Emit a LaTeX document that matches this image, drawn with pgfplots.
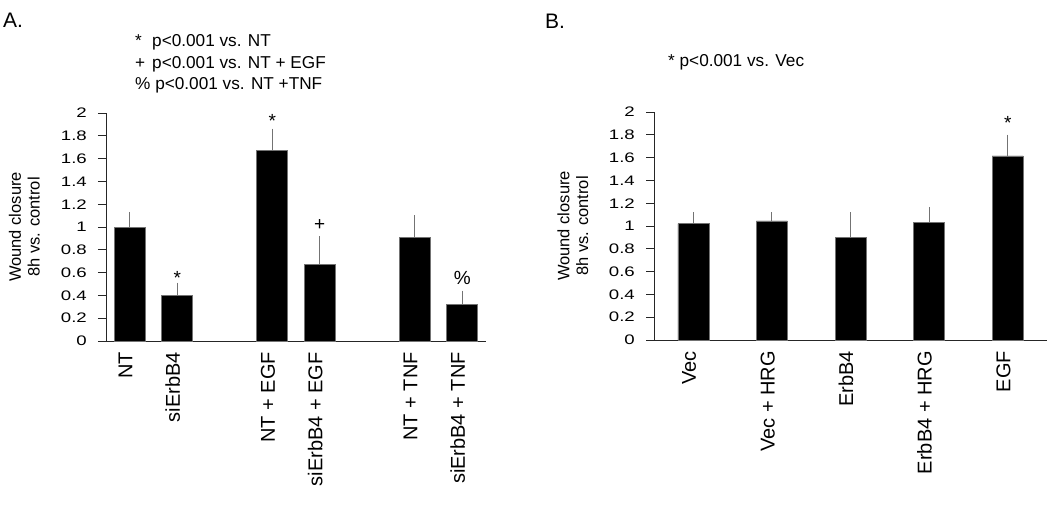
\documentclass[border=0pt]{standalone}
\usepackage{pgfplots}
\pgfplotsset{compat=1.18}
\usepackage{fontspec}
\setmainfont{Liberation Sans}
\newfontfamily\tickfont[FakeStretch=1.35]{Liberation Sans}

\pgfplotsset{
  panel/.style={
    scale only axis,
    height=228pt,
    ymin=0, ymax=2,
    ytick={0,0.2,0.4,0.6,0.8,1,1.2,1.4,1.6,1.8,2},
    axis lines*=left,
    axis line style={black!85, line width=0.9pt},
    tick align=outside,
    major tick length=8pt,
    ytick style={black!85, line width=0.9pt},
    xtick style={draw=none},
    enlarge x limits=false,
    ybar,
    bar width=31pt,
    yticklabel={\pgfmathprintnumber[fixed, precision=2, assume math mode=true]{\tick}},
    yticklabel style={font=\tickfont\fontsize{13.8}{16}\selectfont, inner sep=0pt, anchor=east},
    yticklabel shift=11pt,
    xticklabel style={font=\fontsize{20}{24}\selectfont, rotate=90, anchor=mid east, inner sep=0pt},
    xticklabel shift=3pt,
    ylabel={Wound closure\\8h vs. control},
    ylabel style={font=\fontsize{16.5}{18.7}\selectfont, align=center, inner sep=0pt, anchor=south},
  },
  barplot/.style={
    fill=black, draw=black!55, line width=0.5pt,
    error bars/.cd, y dir=plus, y explicit,
    error bar style={black!55, line width=1pt},
    error mark options={black!55, line width=1pt, mark size=2.5pt},
  },
}

\begin{document}
\begin{tikzpicture}
\useasboundingbox (0,0) rectangle (1050pt,507pt);

% Panel A
\begin{axis}[panel,
  at={(106pt,166pt)}, anchor=south west,
  width=380pt,
  xmin=-0.5, xmax=7.5,
  xtick={0,1,3,4,6,7},
  xticklabels={NT, siErbB4, NT + EGF, siErbB4 + EGF, NT + TNF, siErbB4 + TNF},
  ylabel style={at={(axis description cs:-0.174,0.5)}},
]
\addplot[barplot] table[x=x, y=y, y error=e] {
x y e
0 1.00 0.11
1 0.40 0.09
3 1.675 0.165
4 0.675 0.22
6 0.91 0.17
7 0.32 0.10
};
\node[font=\fontsize{19}{22}\selectfont, anchor=base] at (axis cs:1,0.50) {*};
\node[font=\fontsize{19}{22}\selectfont, anchor=base] at (axis cs:3,1.87) {*};
\node[font=\fontsize{19}{22}\selectfont, anchor=base] at (axis cs:4,0.97) {+};
\node[font=\fontsize{19}{22}\selectfont, anchor=base] at (axis cs:7,0.50) {\%};
\end{axis}

% Panel B
\begin{axis}[panel,
  at={(654pt,167pt)}, anchor=south west,
  width=393pt,
  xmin=-0.5, xmax=4.5,
  xtick={0,1,2,3,4},
  xticklabels={Vec, Vec + HRG, ErbB4, ErbB4 + HRG, EGF},
  ylabel style={at={(axis description cs:-0.167,0.5)}},
]
\addplot[barplot] table[x=x, y=y, y error=e] {
x y e
0 1.02 0.08
1 1.045 0.055
2 0.90 0.20
3 1.035 0.11
4 1.615 0.165
};
\node[font=\fontsize{19}{22}\selectfont, anchor=base] at (axis cs:4,1.85) {*};
\end{axis}

% Panel letters and notes
\node[anchor=base west, inner sep=0pt, font=\fontsize{21}{25}\selectfont] at (3pt,479pt) {A.};
\node[anchor=base west, inner sep=0pt, font=\fontsize{21}{25}\selectfont] at (545pt,478pt) {B.};
\node[anchor=base west, inner sep=0pt, font=\fontsize{17.2}{21}\selectfont] at (135pt,460pt) {\makebox[17pt][l]{*}p<0.001 vs. NT};
\node[anchor=base west, inner sep=0pt, font=\fontsize{17.2}{21}\selectfont] at (135pt,438pt) {\makebox[17pt][l]{+}p<0.001 vs. NT + EGF};
\node[anchor=base west, inner sep=0pt, font=\fontsize{17.2}{21}\selectfont] at (135pt,417pt) {\% p<0.001 vs. NT +TNF};
\node[anchor=base west, inner sep=0pt, font=\fontsize{17.2}{21}\selectfont] at (668pt,440pt) {* p<0.001 vs. Vec};
\end{tikzpicture}
\end{document}
